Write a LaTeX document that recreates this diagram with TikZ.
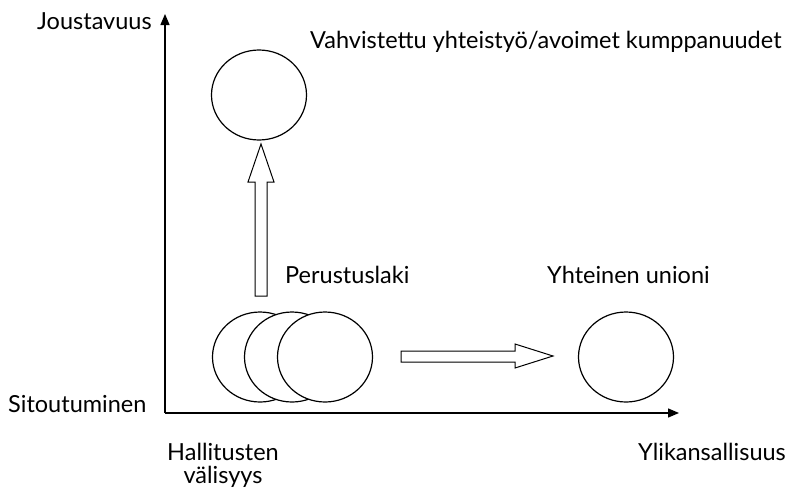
\documentclass[tikz,border=0pt]{standalone}
\usepackage{fontspec}
\setmainfont{Lato}
\usetikzlibrary{shapes.geometric,arrows.meta}
\begin{document}
\begin{tikzpicture}[x=1pt,y=-1pt,
  lbl/.style={anchor=base west,inner sep=0pt,font=\fontsize{23.5}{24}\selectfont},
  clbl/.style={anchor=base,inner sep=0pt,font=\fontsize{23.5}{24}\selectfont},
  disc/.style={draw,ellipse,line width=1.2pt,minimum width=95pt,minimum height=90pt,inner sep=0pt,fill=white},
  axis/.style={line width=1.4pt,-{Triangle[length=11pt,width=9pt]}},
  blockarrow/.style={draw,line width=1pt,fill=white,line join=miter}]
\useasboundingbox (0,0) rectangle (801,496);

% axes
\coordinate (O) at (165,413);
\coordinate (ytip) at (165,14);
\coordinate (xtip) at (679,413);
\draw[axis] (O) -- (ytip);
\draw[axis] (O) -- (xtip);

% axis labels
\node[lbl] (joust) at (37,29) {Joustavuus};
\node[lbl] (sitou) at (8,412) {Sitoutuminen};
\node[lbl] (ylik) at (638,460) {Ylikansallisuus};
\node[clbl] (hall1) at (223,460) {Hallitusten};
\node[clbl] (hall2) at (223,483) {välisyys};

% discs
\node[disc] (c1) at (260,357) {};
\node[disc] (c2) at (292,357) {};
\node[disc] (c3) at (325,357) {};
\node[disc] (top) at (259,95) {};
\node[disc] (right) at (626,357) {};

% disc labels
\node[lbl] (vahv) at (310,48) {Vahvistettu yhteistyö/avoimet kumppanuudet};
\node[lbl] (perus) at (285,283) {Perustuslaki};
\node[lbl] (yht) at (547,283) {Yhteinen unioni};

% block arrows
\draw[blockarrow] (255,296) -- (255,182) -- (248,182) -- (261,144) -- (274,182) -- (267,182) -- (267,296) -- cycle;
\draw[blockarrow] (401,351) -- (515,351) -- (515,344) -- (553,356) -- (515,368) -- (515,362) -- (401,362) -- cycle;
\end{tikzpicture}
\end{document}
